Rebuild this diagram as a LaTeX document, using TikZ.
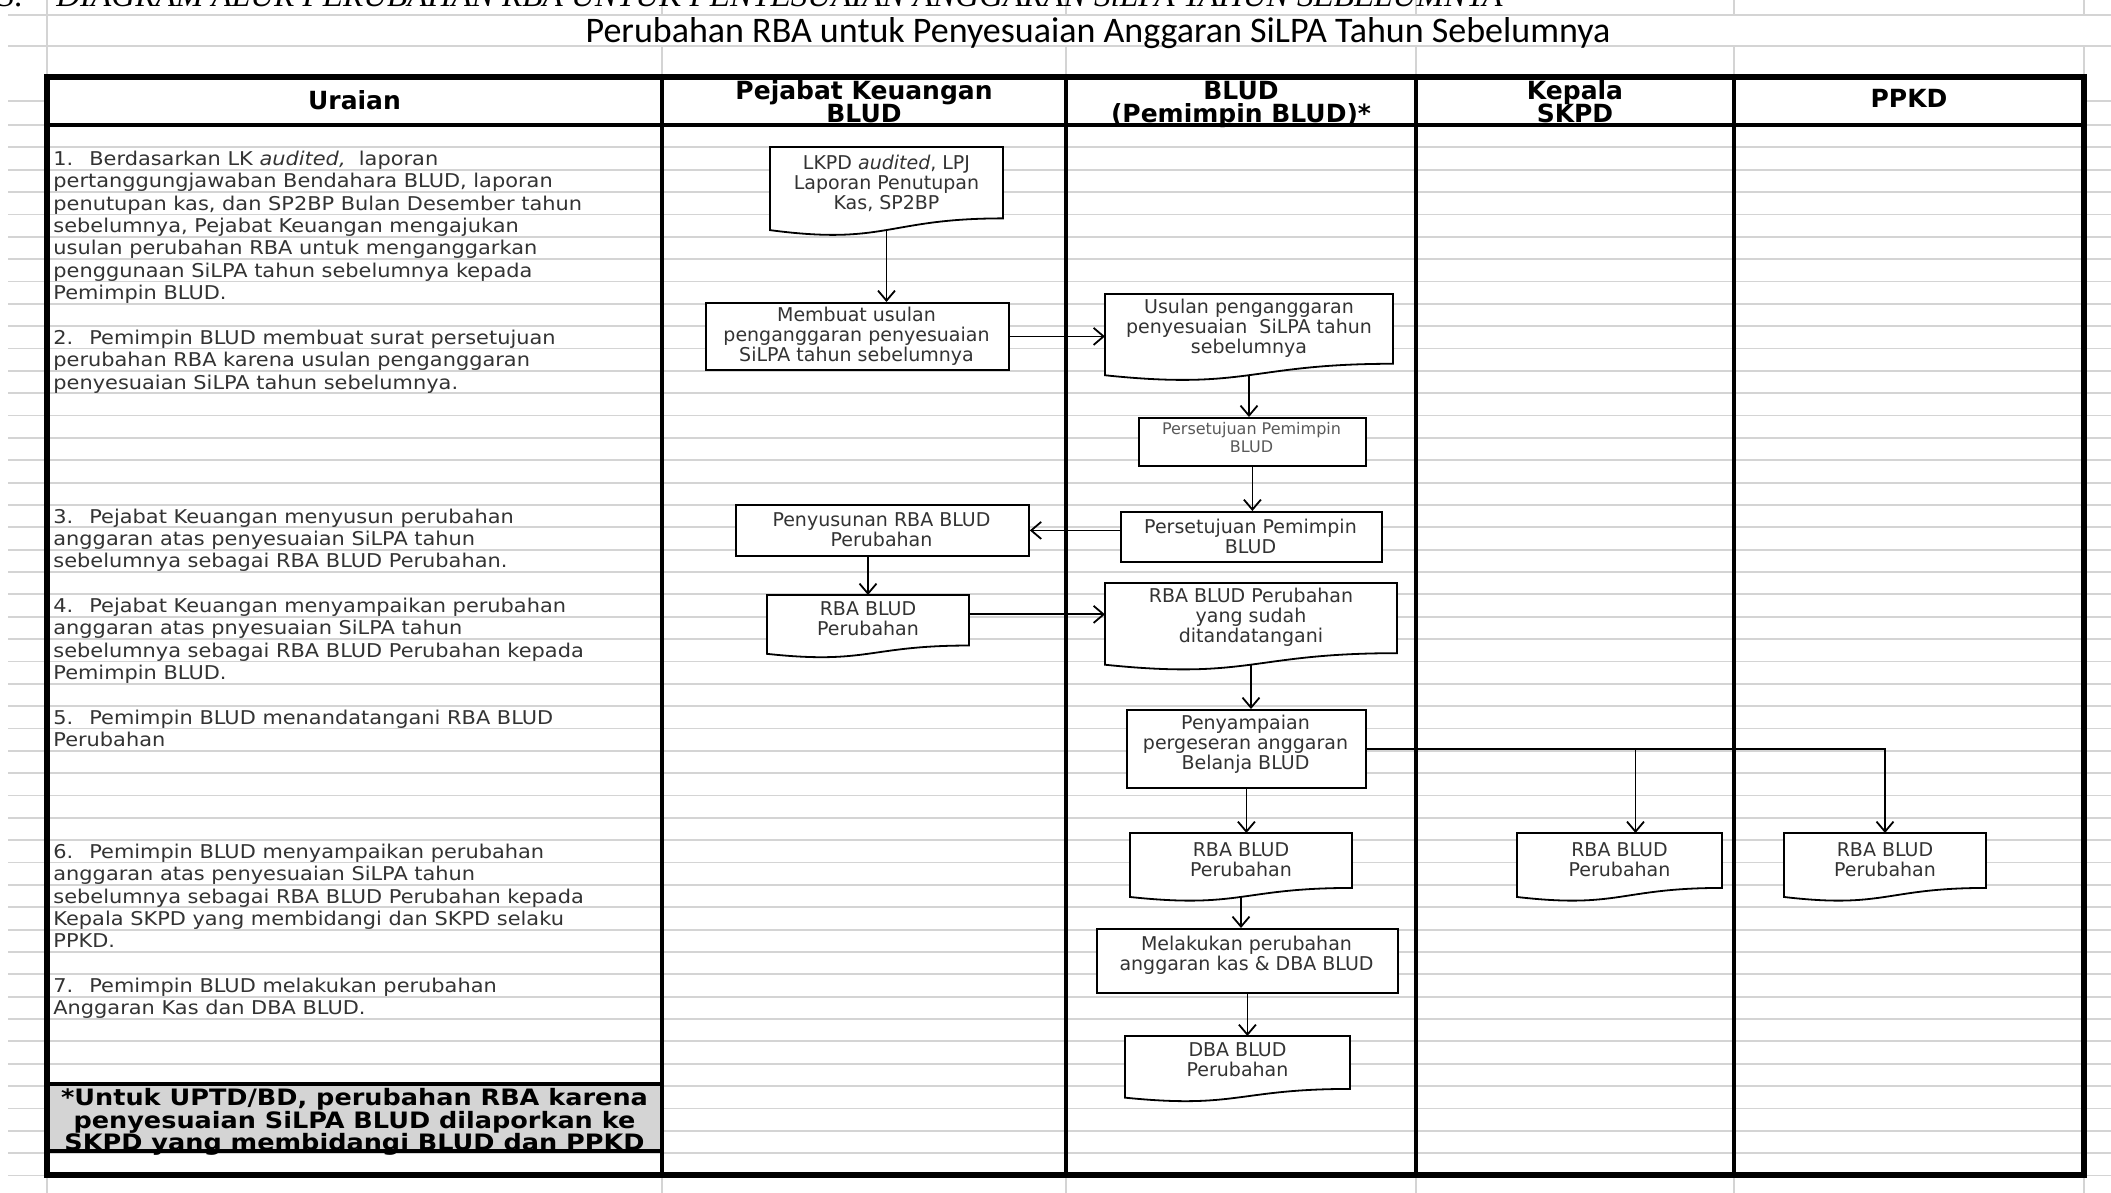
\documentclass[tikz,border=0pt]{standalone}
\usepackage{fontspec}
\setmainfont{DejaVu Sans}
\newfontfamily\titlefont{Carlito}
\newfontfamily\topserif{Liberation Serif}
\newfontfamily\urfont{DejaVu Sans}[FakeStretch=1.1]
\newfontfamily\footfont{DejaVu Sans}[FakeStretch=1.13]
\usetikzlibrary{arrows.meta}

\tikzset{
  gridln/.style={line width=0.9pt, draw=black!17},
  frame/.style={line width=2.6pt, draw=black},
  divider/.style={line width=2pt, draw=black},
  shapeline/.style={line width=0.9pt, draw=black},
  boxnode/.style={draw=black, line width=0.9pt, fill=white, inner sep=0pt},
  anchornode/.style={inner sep=0pt, outer sep=0pt},
  lbl/.style={align=center, inner sep=0pt, text=black!80, font=\fontsize{9.5}{10}\selectfont},
  urtxt/.style={anchor=base west, inner sep=0pt, text=black!80, font=\urfont\fontsize{9.5}{10}\selectfont},
  hdr/.style={anchor=base, inner sep=0pt, font=\fontsize{12.5}{13}\selectfont\bfseries},
  foottxt/.style={anchor=base, inner sep=0pt, font=\footfont\fontsize{11.3}{12}\selectfont\bfseries},
  arr/.style={line width=0.9pt, -{Straight Barb[length=5pt,width=8.5pt]}},
  conn/.style={line width=0.9pt},
}

% document shape: name, x1, y1, x2, h, text-y, text
\newcommand\docsh[7]{%
  \filldraw[shapeline, fill=white] (#2,#3) -- (#4,#3) -- (#4,{#3+0.802*#5})
    .. controls ({(#2+#4)/2},{#3+0.802*#5}) and ({(#2+#4)/2},{#3+1.1075*#5}) .. (#2,{#3+0.934*#5}) -- cycle;
  \node[anchornode, anchor=north west, minimum width={(#4-#2)*0.5pt}, minimum height={0.933*#5*0.5pt}] (#1) at (#2,#3) {};
  \node[lbl] (#1-t) at ({(#2+#4)/2},#6) {#7};
}
% box: [label style] name, x1, y1, x2, y2, text-y, text
\newcommand\boxsh[8][]{%
  \node[boxnode, anchor=north west, minimum width={(#5-#3)*0.5pt}, minimum height={(#6-#4)*0.5pt}] (#2) at (#3,#4) {};
  \node[lbl,#1] (#2-t) at ({(#3+#5)/2},#7) {#8};
}
% Uraian text line in spreadsheet row
\newcommand\ur[2]{\node[urtxt] (ur#1) at (53,{125+22.35*(#1+0.5)+7}) {#2};}

\begin{document}
\begin{tikzpicture}[x=0.5pt,y=-0.5pt]
\useasboundingbox (0,0) rectangle (2111,1193);
\clip (0,0) rectangle (2111,1193);
\fill[white] (0,0) rectangle (2111,1193);

% spreadsheet gridlines
\foreach \yy in {15,46,101} \draw[gridln] (8,\yy) -- (2111,\yy);
\foreach \k in {0,...,47} \draw[gridln] (8,{125+22.35*\k}) -- (2111,{125+22.35*\k});
\draw[gridln] (47,0) -- (47,1193);
\foreach \x in {662,1066,1416,1734,2084} {
  \draw[gridln] (\x,0) -- (\x,15);
  \draw[gridln] (\x,46) -- (\x,77);
  \draw[gridln] (\x,1175) -- (\x,1193);
}

% clipped heading at the very top
\node[anchor=base west, inner sep=0pt] (toph) at (-2,7)
  {\resizebox{752pt}{!}{\topserif\itshape 3.\quad DIAGRAM ALUR PERUBAHAN RBA UNTUK PENYESUAIAN ANGGARAN SiLPA TAHUN SEBELUMNYA}};

% title
\node[inner sep=0pt, font=\titlefont\fontsize{18}{19}\selectfont] (title) at (1098,33)
  {Perubahan RBA untuk Penyesuaian Anggaran SiLPA Tahun Sebelumnya};

% header cells and footnote fill
\fill[white] (47,77) rectangle (2084,125);
\fill[black!17] (47,1084) rectangle (662,1151);

% table lines
\draw[frame] (47,77) rectangle (2084,1175);
\foreach \x in {662,1066,1416,1734} \draw[divider] (\x,77) -- (\x,1175);
\draw[divider] (47,125) -- (2084,125);
\draw[divider] (47,1084) -- (662,1084);
\draw[divider] (47,1151) -- (662,1151);

% headers
\node[hdr] (h1) at (354.5,109.5) {Uraian};
\node[hdr] (h2a) at (864,99.5) {Pejabat Keuangan};
\node[hdr] (h2b) at (864,123) {BLUD};
\node[hdr] (h3a) at (1241,99.5) {BLUD};
\node[hdr] (h3b) at (1241,123) {(Pemimpin BLUD)*};
\node[hdr] (h4a) at (1575,99.5) {Kepala};
\node[hdr] (h4b) at (1575,123) {SKPD};
\node[hdr] (h5) at (1909,107.5) {PPKD};

% Uraian column
\ur{1}{1.\hspace{8pt}Berdasarkan LK \textit{audited,}\ \ laporan}
\ur{2}{pertanggungjawaban Bendahara BLUD, laporan}
\ur{3}{penutupan kas, dan SP2BP Bulan Desember tahun}
\ur{4}{sebelumnya, Pejabat Keuangan mengajukan}
\ur{5}{usulan perubahan RBA untuk menganggarkan}
\ur{6}{penggunaan SiLPA tahun sebelumnya kepada}
\ur{7}{Pemimpin BLUD.}
\ur{9}{2.\hspace{8pt}Pemimpin BLUD membuat surat persetujuan}
\ur{10}{perubahan RBA karena usulan penganggaran}
\ur{11}{penyesuaian SiLPA tahun sebelumnya.}
\ur{17}{3.\hspace{8pt}Pejabat Keuangan menyusun perubahan}
\ur{18}{anggaran atas penyesuaian SiLPA tahun}
\ur{19}{sebelumnya sebagai RBA BLUD Perubahan.}
\ur{21}{4.\hspace{8pt}Pejabat Keuangan menyampaikan perubahan}
\ur{22}{anggaran atas pnyesuaian SiLPA tahun}
\ur{23}{sebelumnya sebagai RBA BLUD Perubahan kepada}
\ur{24}{Pemimpin BLUD.}
\ur{26}{5.\hspace{8pt}Pemimpin BLUD menandatangani RBA BLUD}
\ur{27}{Perubahan}
\ur{32}{6.\hspace{8pt}Pemimpin BLUD menyampaikan perubahan}
\ur{33}{anggaran atas penyesuaian SiLPA tahun}
\ur{34}{sebelumnya sebagai RBA BLUD Perubahan kepada}
\ur{35}{Kepala SKPD yang membidangi dan SKPD selaku}
\ur{36}{PPKD.}
\ur{38}{7.\hspace{8pt}Pemimpin BLUD melakukan perubahan}
\ur{39}{Anggaran Kas dan DBA BLUD.}

% footnote
\node[foottxt] (f1) at (354.5,1105.6) {*Untuk UPTD/BD, perubahan RBA karena};
\node[foottxt] (f2) at (354.5,1128) {penyesuaian SiLPA BLUD dilaporkan ke};
\node[foottxt] (f3) at (354.5,1150.3) {SKPD yang membidangi BLUD dan PPKD};

% flow shapes
\docsh{lkpd}{770}{147}{1003}{89}{183}{LKPD \textit{audited}, LPJ\\Laporan Penutupan\\Kas, SP2BP}
\boxsh{membuat}{705}{302}{1008}{369}{336}{Membuat usulan\\penganggaran penyesuaian\\SiLPA tahun sebelumnya}
\docsh{usul}{1105}{294}{1393}{87}{328}{Usulan penganggaran\\penyesuaian\ \ SiLPA tahun\\sebelumnya}
\boxsh[font=\fontsize{8}{9}\selectfont, text=black!65]{persm}{1138}{417}{1365}{465}{438}{Persetujuan Pemimpin\\BLUD}
\boxsh{persb}{1120}{511}{1381}{561}{536}{Persetujuan Pemimpin\\BLUD}
\boxsh{penyus}{735}{504}{1028}{555}{530}{Penyusunan RBA BLUD\\Perubahan}
\docsh{rbapk}{767}{595}{969}{63}{619}{RBA BLUD\\Perubahan}
\docsh{rbattd}{1105}{583}{1397}{87.5}{617}{RBA BLUD Perubahan\\yang sudah\\ditandatangani}
\boxsh{penyamp}{1126}{709}{1365}{787}{744}{Penyampaian\\pergeseran anggaran\\Belanja BLUD}
\docsh{rbablud}{1130}{833}{1352}{68.5}{860}{RBA BLUD\\Perubahan}
\docsh{rbaskpd}{1517}{833}{1722}{68.5}{860}{RBA BLUD\\Perubahan}
\docsh{rbappkd}{1784}{833}{1986}{68.5}{860}{RBA BLUD\\Perubahan}
\boxsh{melak}{1096}{928}{1397}{992}{955}{Melakukan perubahan\\anggaran kas \& DBA BLUD}
\docsh{dba}{1125}{1036}{1350}{66}{1060}{DBA BLUD\\Perubahan}

% connectors
\draw[arr] (lkpd.south) -- (lkpd.south |- membuat.north);
\draw[arr] (membuat.east) -- (membuat.east -| usul.west);
\draw[arr] (usul.south) -- (usul.south |- persm.north);
\draw[arr] (persm.south) -- (persm.south |- persb.north);
\draw[arr] (persb.west |- penyus.east) -- (penyus.east);
\draw[arr] (rbapk.north |- penyus.south) -- (rbapk.north);
\coordinate (r1) at ([yshift=5pt]rbapk.east);
\draw[arr] (r1) -- (r1 -| rbattd.west);
\draw[arr] (rbattd.south) -- (rbattd.south |- penyamp.north);
\coordinate (k1) at ([xshift=8pt]rbaskpd.north);
\draw[arr] (penyamp.east) -| (k1);
\draw[arr] (penyamp.east) -| (rbappkd.north);
\draw[arr] (penyamp.south) -- (penyamp.south |- rbablud.north);
\draw[arr] (rbablud.south) -- (rbablud.south |- melak.north);
\draw[arr] (melak.south) -- (melak.south |- dba.north);
\end{tikzpicture}
\end{document}
